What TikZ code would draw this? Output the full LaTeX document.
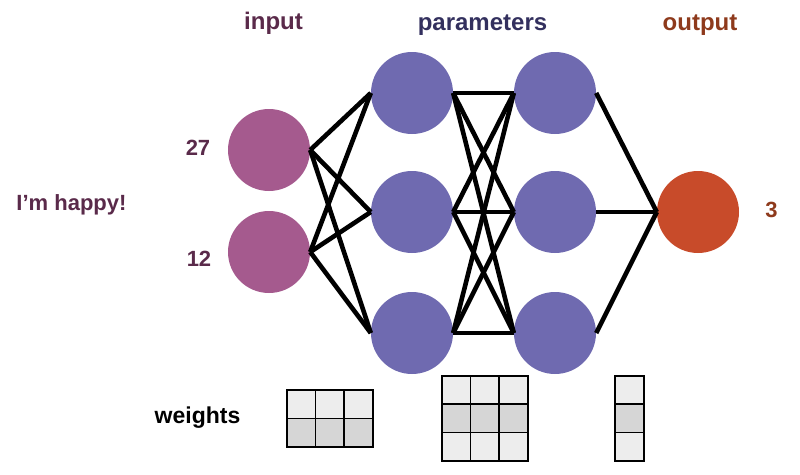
\documentclass[tikz,border=0pt]{standalone}
\usepackage{fontspec}
\setmainfont{Liberation Sans}
\definecolor{inC}{HTML}{A55A8E}
\definecolor{hidC}{HTML}{6F6AB0}
\definecolor{outC}{HTML}{C84B2A}
\definecolor{inT}{HTML}{5A2A4A}
\definecolor{parT}{HTML}{33305E}
\definecolor{outT}{HTML}{8E3A1C}
\definecolor{cellL}{HTML}{EDEDED}
\definecolor{cellD}{HTML}{D6D6D6}
\begin{document}
\begin{tikzpicture}[x=1pt,y=-1pt,
  neuron/.style={circle,minimum size=82pt,inner sep=0pt},
  innode/.style={neuron,fill=inC},
  hidnode/.style={neuron,fill=hidC},
  outnode/.style={neuron,fill=outC},
  lbl/.style={font=\bfseries\fontsize{24}{28}\selectfont,anchor=base,inner sep=0pt},
  num/.style={font=\bfseries\fontsize{22}{26}\selectfont,anchor=base,inner sep=0pt},
  edge/.style={line width=4.6pt,black},
  cellbox/.style={draw=black,line width=1.6pt,inner sep=0pt,anchor=north west}
]
\useasboundingbox (0,0) rectangle (800,474);
% titles
\node[lbl,text=inT] (tin) at (273.5,29.5) {input};
\node[lbl,text=parT] (tpar) at (482.5,30) {parameters};
\node[lbl,text=outT] (tout) at (700,30) {output};
% neurons
\node[innode] (i1) at (269,150) {};
\node[innode] (i2) at (269,252) {};
\node[hidnode] (a1) at (412,93) {};
\node[hidnode] (a2) at (412,212) {};
\node[hidnode] (a3) at (412,333) {};
\node[hidnode] (b1) at (555,93) {};
\node[hidnode] (b2) at (555,212) {};
\node[hidnode] (b3) at (555,333) {};
\node[outnode] (o) at (698,212) {};
% labels
\node[num,text=inT] (n27) at (198,155.5) {27};
\node[num,text=inT] (n12) at (199,266) {12};
\node[num,text=inT] (happy) at (71.5,210.5) {I’m happy!};
\node[num,text=outT] (n3) at (771.5,217.5) {3};
\node[num,text=black,font=\bfseries\fontsize{23}{27}\selectfont] (w) at (197.5,423.5) {weights};
% edges
\foreach \s in {i1,i2}
  \foreach \t in {a1,a2,a3}
    \draw[edge] (\s.east) -- (\t.west);
\foreach \s in {a1,a2,a3}
  \foreach \t in {b1,b2,b3}
    \draw[edge] (\s.east) -- (\t.west);
\foreach \s in {b1,b2,b3}
  \draw[edge] (\s.east) -- (o.west);
% weight grids
% grid 1: 3 cols x 2 rows
\foreach \c in {0,1,2}{
  \node[cellbox,fill=cellL,minimum width=28.7pt,minimum height=28.5pt] (g1a\c) at ({286+28.7*\c},389) {};
  \node[cellbox,fill=cellD,minimum width=28.7pt,minimum height=28.5pt] (g1b\c) at ({286+28.7*\c},417.5) {};
}
% grid 2: 3x3
\foreach \c in {0,1,2}{
  \node[cellbox,fill=cellL,minimum width=28.7pt,minimum height=28.3pt] (g2a\c) at ({441+28.7*\c},375) {};
  \node[cellbox,fill=cellD,minimum width=28.7pt,minimum height=28.3pt] (g2b\c) at ({441+28.7*\c},403.3) {};
  \node[cellbox,fill=cellL,minimum width=28.7pt,minimum height=28.3pt] (g2c\c) at ({441+28.7*\c},431.6) {};
}
% grid 3: 1x3
\node[cellbox,fill=cellL,minimum width=29pt,minimum height=28.3pt] (g3a) at (614,375) {};
\node[cellbox,fill=cellD,minimum width=29pt,minimum height=28.3pt] (g3b) at (614,403.3) {};
\node[cellbox,fill=cellL,minimum width=29pt,minimum height=28.3pt] (g3c) at (614,431.6) {};
\end{tikzpicture}
\end{document}
